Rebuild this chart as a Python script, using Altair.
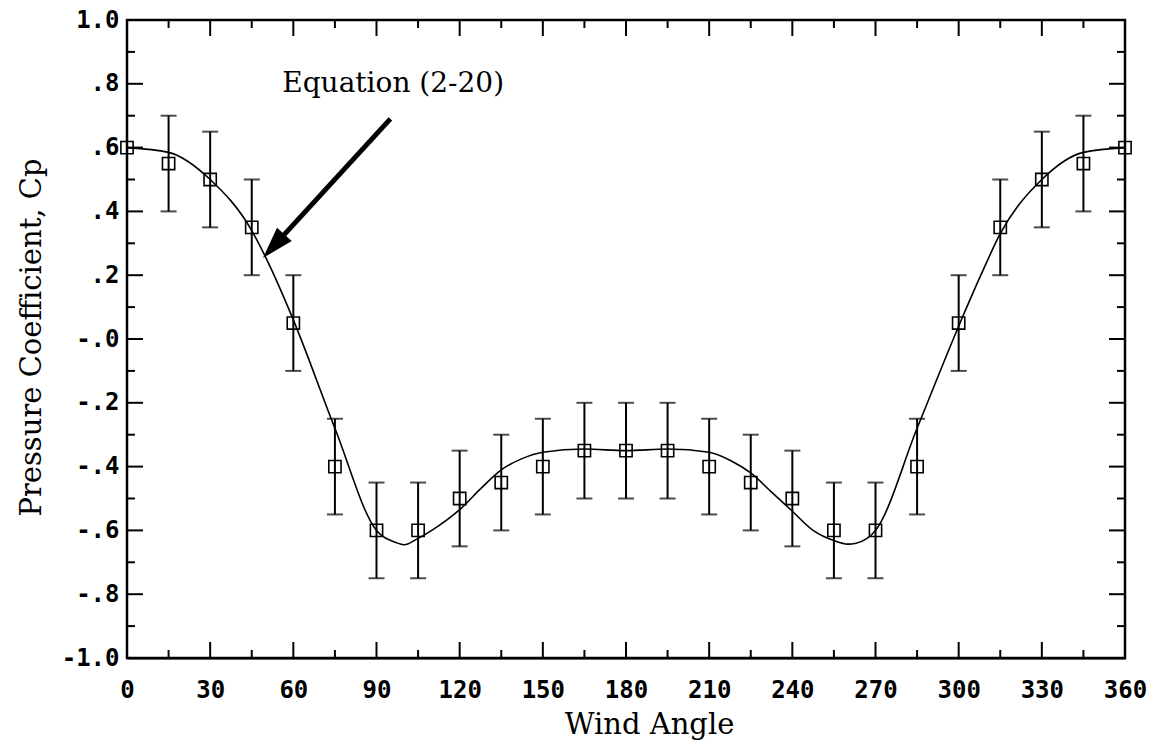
import altair as alt
import pandas as pd

# ---- data ----
angles = [0, 15, 30, 45, 60, 75, 90, 105, 120, 135, 150, 165, 180,
          195, 210, 225, 240, 255, 270, 285, 300, 315, 330, 345, 360]
cp_measured = [0.60, 0.55, 0.50, 0.35, 0.05, -0.40, -0.60, -0.60, -0.50, -0.45, -0.40, -0.35, -0.35,
               -0.35, -0.40, -0.45, -0.50, -0.60, -0.60, -0.40, 0.05, 0.35, 0.50, 0.55, 0.60]
err_half = [None, 0.15, 0.15, 0.15, 0.15, 0.15, 0.15, 0.15, 0.15, 0.15, 0.15, 0.15, 0.15,
            0.15, 0.15, 0.15, 0.15, 0.15, 0.15, 0.15, 0.15, 0.15, 0.15, 0.15, None]

# Equation (2-20) curve
curve_angles = [0, 15, 30, 45, 52, 60, 75, 90, 97, 100, 105, 112.5, 120, 127.5, 135, 142.5, 150,
                165, 180, 195, 210, 217.5, 225, 232.5, 240, 247.5, 255, 260, 263, 270, 285,
                300, 308, 315, 330, 345, 360]
curve_cp = [0.60, 0.585, 0.50, 0.34, 0.22, 0.06, -0.28, -0.60, -0.638, -0.645, -0.625, -0.585, -0.535,
            -0.47, -0.41, -0.375, -0.355, -0.345, -0.35, -0.345, -0.355, -0.38, -0.42, -0.48,
            -0.54, -0.60, -0.632, -0.643, -0.64, -0.60, -0.28, 0.04, 0.20, 0.33, 0.50, 0.585, 0.60]

x_major = [0, 30, 60, 90, 120, 150, 180, 210, 240, 270, 300, 330, 360]
x_minor = [15, 45, 75, 105, 135, 165, 195, 225, 255, 285, 315, 345]
y_major = [-1.0, -0.8, -0.6, -0.4, -0.2, 0.0, 0.2, 0.4, 0.6, 0.8, 1.0]
y_minor = [-0.9, -0.7, -0.5, -0.3, -0.1, 0.1, 0.3, 0.5, 0.7, 0.9]

frame_x = [0]
frame_x2 = [360]
frame_y = [-1.0]
frame_y2 = [1.0]

annotation_text = ["Equation (2-20)"]
annotation_x = [56]
annotation_y = [0.774]
arrow_x = [95, 55.3]
arrow_y = [0.69, 0.314]
arrowhead_x = [52.9]
arrowhead_y = [0.291]

# ---- layout ----
W, H = 998, 638
PAD = {"left": 127, "top": 20, "right": 45, "bottom": 94}
MAJ, MIN = 16, 8

pts = pd.DataFrame({"angle": angles, "cp": cp_measured, "e": err_half})
eb = pts.dropna().copy()
eb["lo"] = eb["cp"] - eb["e"]
eb["hi"] = eb["cp"] + eb["e"]
curve = pd.DataFrame({"angle": curve_angles, "cp": curve_cp})
frame = pd.DataFrame({"angle": frame_x, "angle2": frame_x2, "cp": frame_y, "cp2": frame_y2})
txt = pd.DataFrame({"angle": annotation_x, "cp": annotation_y, "t": annotation_text})
arr = pd.DataFrame({"angle": arrow_x, "cp": arrow_y, "o": [0, 1]})
head = pd.DataFrame({"angle": arrowhead_x, "cp": arrowhead_y})
xmaj = pd.DataFrame({"angle": x_major})
xmin = pd.DataFrame({"angle": x_minor})
ymaj = pd.DataFrame({"cp": y_major})
ymin = pd.DataFrame({"cp": y_minor})

xs = alt.Scale(domain=[0, 360], nice=False, zero=False)
ys = alt.Scale(domain=[-1, 1], nice=False, zero=False)

SERIF = "DejaVu Serif"

y_label_expr = ("datum.value >= 0.99 ? '1.0' : datum.value <= -0.99 ? '-1.0' : "
                "abs(datum.value) < 0.01 ? '-.0' : (datum.value > 0 ? '.' : '-.') + "
                "round(abs(datum.value) * 10)")

x_label_axis = alt.Axis(orient="bottom", values=x_major, ticks=False, tickSize=0, domain=True,
                        domainColor="black", domainWidth=2,
                        grid=False, labelFont="DejaVu Sans Mono", labelFontWeight="bold",
                        labelFontSize=24, labelColor="black", labelPadding=20, labelFlush=False,
                        labelOverlap=False, format="d",
                        title="Wind Angle", titleFont=SERIF, titleFontSize=29,
                        titleFontWeight="normal", titleColor="black", titleX=522, titleY=66,
                        titleAlign="center", titleBaseline="middle")
y_label_axis = alt.Axis(orient="left", values=y_major, ticks=False, tickSize=0, domain=True,
                        domainColor="black", domainWidth=2,
                        grid=False, labelFont="DejaVu Sans Mono", labelFontWeight="bold",
                        labelFontSize=24, labelColor="black", labelPadding=8, labelFlush=False,
                        labelOverlap=False, labelExpr=y_label_expr, labelBaseline="middle",
                        title="Pressure Coefficient, Cp", titleFont=SERIF,
                        titleFontSize=29, titleFontWeight="normal", titleColor="black",
                        titleX=-96, titleY=317, titleAngle=270, titleAlign="center",
                        titleBaseline="middle")

# every layer carries the same (shared) axis definition
X = lambda f: alt.X(f, scale=xs, axis=x_label_axis)
Y = lambda f: alt.Y(f, scale=ys, axis=y_label_axis)

# plot frame first (white fill, black border), everything else on top
frame_layer = alt.Chart(frame).mark_rect(fill="white", stroke="black", strokeWidth=2.5).encode(
    x=X("angle:Q"), x2="angle2:Q", y=Y("cp:Q"), y2="cp2:Q")

curve_layer = alt.Chart(curve).mark_line(color="black", strokeWidth=1.6, interpolate="monotone").encode(
    x=X("angle:Q"), y=Y("cp:Q"))


def xticks(df, y0, y1):
    return alt.Chart(df).mark_rule(color="black", strokeWidth=2).encode(
        x=X("angle:Q"), y=alt.value(y0), y2=alt.value(y1))


def yticks(df, x0, x1):
    return alt.Chart(df).mark_rule(color="black", strokeWidth=2).encode(
        y=Y("cp:Q"), x=alt.value(x0), x2=alt.value(x1))


tick_layers = [
    xticks(xmaj, H, H - MAJ), xticks(xmin, H, H - MIN),
    xticks(xmaj, 0, MAJ), xticks(xmin, 0, MIN),
    yticks(ymaj, 0, MAJ), yticks(ymin, 0, MIN),
    yticks(ymaj, W, W - MAJ), yticks(ymin, W, W - MIN),
]

bars = alt.Chart(eb).mark_rule(color="black", strokeWidth=2).encode(
    x=X("angle:Q"), y=Y("lo:Q"), y2="hi:Q")

caps_lo = alt.Chart(eb).mark_tick(color="black", orient="horizontal", size=16, thickness=2).encode(
    x=X("angle:Q"), y=Y("lo:Q"))

caps_hi = alt.Chart(eb).mark_tick(color="black", orient="horizontal", size=16, thickness=2).encode(
    x=X("angle:Q"), y=Y("hi:Q"))

squares = alt.Chart(pts).mark_point(shape="square", size=150, filled=False, color="black",
                                    strokeWidth=1.6, opacity=1).encode(
    x=X("angle:Q"), y=Y("cp:Q"))

label = alt.Chart(txt).mark_text(font=SERIF, fontSize=28, align="left",
                                 baseline="alphabetic", color="black").encode(
    x=X("angle:Q"), y=Y("cp:Q"), text="t:N")

arrow_line = alt.Chart(arr).mark_line(color="black", strokeWidth=5, strokeCap="butt").encode(
    x=X("angle:Q"), y=Y("cp:Q"), order="o:O")

arrow_head = alt.Chart(head).mark_point(shape="M0,-1L0.62,1L-0.62,1Z", size=1024, filled=True,
                                        color="black", opacity=1, angle=222).encode(
    x=X("angle:Q"), y=Y("cp:Q"))

chart = alt.layer(frame_layer, curve_layer, *tick_layers, bars, caps_lo, caps_hi, squares, label,
                  arrow_line, arrow_head).properties(
    width=W, height=H, padding=PAD, autosize=alt.AutoSizeParams(type="none"), background="white"
).configure_view(stroke="black", strokeWidth=2)

chart.save("out.html", embed_options={"renderer": "svg", "actions": False})
